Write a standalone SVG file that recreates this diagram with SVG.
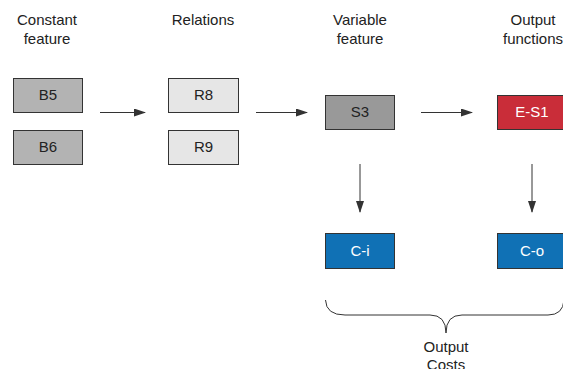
<svg xmlns="http://www.w3.org/2000/svg" width="563" height="369" viewBox="0 0 563 369">
<style>
text{font-family:"Liberation Sans",Arial,sans-serif;font-size:15px;text-anchor:middle;fill:#222}
.box{stroke:#333;stroke-width:1}
.w{fill:#fff}
.c{stroke:#333;stroke-width:1;fill:none}
</style>
<defs>
<marker id="ah" markerWidth="12" markerHeight="8" refX="11" refY="4" orient="auto" markerUnits="userSpaceOnUse">
<path d="M0,0 L12,4 L0,8 Z" fill="#333"/>
</marker>
</defs>
<rect width="563" height="369" fill="#fff"/>
<g id="headers">
<text x="47" y="25">Constant</text><text x="47" y="44">feature</text>
<text x="203" y="25">Relations</text>
<text x="360" y="25">Variable</text><text x="360" y="44">feature</text>
<text x="533" y="25">Output</text><text x="533" y="44">functions</text>
</g>
<g id="B5"><rect class="box" x="13.5" y="78.5" width="69" height="34" fill="#b3b3b3"/><text x="48" y="100">B5</text></g>
<g id="B6"><rect class="box" x="13.5" y="130.5" width="69" height="34" fill="#b3b3b3"/><text x="48" y="152">B6</text></g>
<g id="R8"><rect class="box" x="168.5" y="78.5" width="70" height="34" fill="#e6e6e6"/><text x="203.5" y="100">R8</text></g>
<g id="R9"><rect class="box" x="168.5" y="130.5" width="70" height="34" fill="#e6e6e6"/><text x="203.5" y="152">R9</text></g>
<g id="S3"><rect class="box" x="325.5" y="95.5" width="69" height="34" fill="#999999"/><text x="360" y="117">S3</text></g>
<g id="ES1"><rect class="box" x="497.5" y="95.5" width="69" height="34" fill="#c92d39"/><text class="w" x="532" y="117">E-S1</text></g>
<g id="Ci"><rect class="box" x="325.5" y="233.5" width="69" height="35" fill="#1071b5"/><text class="w" x="360" y="256">C-i</text></g>
<g id="Co"><rect class="box" x="497.5" y="233.5" width="69" height="35" fill="#1071b5"/><text class="w" x="532" y="256">C-o</text></g>
<g id="connectors">
<line class="c" x1="100" y1="112.5" x2="145" y2="112.5" marker-end="url(#ah)"/>
<line class="c" x1="256" y1="112.5" x2="307" y2="112.5" marker-end="url(#ah)"/>
<line class="c" x1="421" y1="112.5" x2="472" y2="112.5" marker-end="url(#ah)"/>
<line class="c" x1="360" y1="164" x2="360" y2="212" marker-end="url(#ah)"/>
<line class="c" x1="532" y1="164" x2="532" y2="212" marker-end="url(#ah)"/>
</g>
<g id="brace">
<path class="c" d="M325.5,300 Q326,315 345,315 L430,315 Q446,315 446,333 Q446,315 462,315 L548,315 Q563,315 564,300"/>
<text x="446" y="352">Output</text><text x="446" y="370">Costs</text>
</g>
</svg>
